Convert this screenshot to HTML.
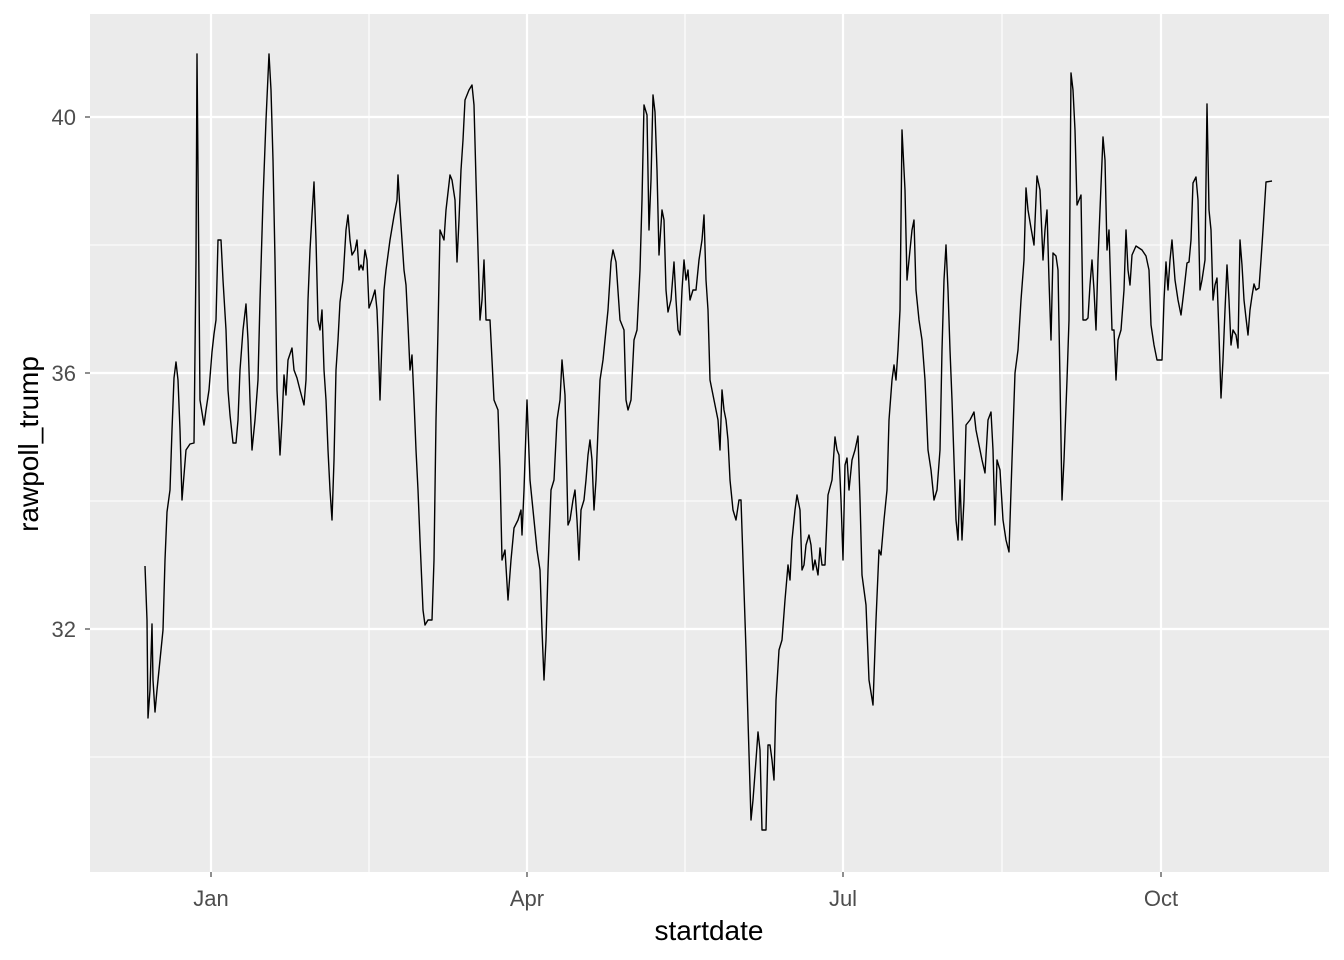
<!DOCTYPE html>
<html><head><meta charset="utf-8"><style>
html,body{margin:0;padding:0;background:#fff;}
svg{display:block;font-family:"Liberation Sans",sans-serif;}
</style></head><body>
<svg width="1344" height="960" viewBox="0 0 1344 960">
<rect x="0" y="0" width="1344" height="960" fill="#fff"/>
<rect x="90" y="14" width="1239" height="858" fill="#ebebeb"/>
<g stroke="#fff" stroke-width="1.1">
<line x1="90" x2="1329" y1="245" y2="245"/><line x1="90" x2="1329" y1="501" y2="501"/><line x1="90" x2="1329" y1="757" y2="757"/>
<line x1="369" x2="369" y1="14" y2="872"/><line x1="685" x2="685" y1="14" y2="872"/><line x1="1002" x2="1002" y1="14" y2="872"/>
</g>
<g stroke="#fff" stroke-width="2.2">
<line x1="90" x2="1329" y1="117" y2="117"/><line x1="90" x2="1329" y1="373" y2="373"/><line x1="90" x2="1329" y1="629" y2="629"/>
<line x1="211" x2="211" y1="14" y2="872"/><line x1="527" x2="527" y1="14" y2="872"/><line x1="843" x2="843" y1="14" y2="872"/><line x1="1161" x2="1161" y1="14" y2="872"/>
</g>
<polyline fill="none" stroke="#000" stroke-width="1.4" stroke-linejoin="round" points="145,566 147,620 148,718 150,690 152,624 153,680 155,712 157,690 160,660 163,630 165,560 167,512 170,490 172,430 174,378 176,362 178,380 180,430 182,500 184,475 186,450 190,444 194,443 196,260 197,54 198,170 200,400 204,425 206,410 209,390 212,352 214,334 216,320 218,240 221,240 223,280 226,330 228,390 230,415 233,443 236,443 238,420 240,370 243,330 246,304 248,340 250,400 252,450 255,420 258,380 260,300 263,200 266,120 269,54 271,90 273,160 275,260 277,390 280,455 282,420 284,375 286,395 288,360 292,348 294,370 297,378 300,390 304,405 306,380 308,300 310,250 312,215 314,182 316,240 318,320 320,330 322,310 324,370 326,400 328,450 330,490 332,520 334,460 336,370 338,340 340,302 343,280 346,230 348,215 350,240 352,255 355,250 357,240 359,270 361,265 363,270 365,250 367,260 369,308 372,300 375,290 377,310 378,335 380,400 382,340 384,290 386,270 390,240 394,216 397,200 398,175 400,210 402,240 404,270 406,285 408,325 410,370 412,355 414,400 416,450 418,490 420,540 423,610 425,625 428,620 432,620 434,560 436,420 438,330 440,230 444,240 446,210 450,175 452,180 455,200 457,262 459,220 461,170 463,140 465,100 469,90 472,85 474,105 476,180 478,250 480,320 482,300 484,260 486,320 490,320 492,360 494,400 498,410 500,470 502,560 505,550 508,600 511,560 514,528 518,520 521,510 522,535 524,490 527,400 530,480 534,520 537,550 540,570 542,630 544,680 546,640 548,570 551,490 554,480 557,420 560,400 562,360 565,395 568,525 570,520 573,500 575,490 577,520 579,560 581,510 584,500 586,480 588,455 590,440 592,460 594,510 596,480 598,430 600,380 603,360 605,340 608,310 611,262 613,250 616,262 620,320 624,330 626,400 628,410 631,400 634,340 637,330 640,270 642,200 644,105 647,115 649,230 651,180 653,95 655,112 657,170 659,255 662,210 664,220 666,290 668,312 671,300 674,262 676,300 678,330 680,335 682,290 684,260 686,280 688,270 690,300 693,290 696,290 699,260 702,240 704,215 706,280 708,310 710,380 713,395 716,410 718,420 720,450 722,390 724,410 726,420 728,440 730,480 733,510 736,520 739,500 741,500 743,560 746,650 748,720 751,820 753,800 756,760 758,732 760,750 762,830 766,830 768,745 770,745 772,760 774,780 776,700 779,650 782,640 785,600 788,565 790,580 792,540 795,510 797,495 800,510 802,570 804,565 806,545 809,535 811,545 813,570 815,560 818,575 820,548 822,565 825,565 828,495 832,480 835,437 837,450 839,455 841,500 843,560 845,465 847,458 849,490 852,460 855,450 858,436 860,500 862,575 866,605 869,680 873,705 876,620 879,550 881,555 884,520 887,490 889,420 892,380 894,365 896,380 898,350 900,310 902,130 905,190 907,280 909,260 912,230 914,220 916,290 919,320 922,340 925,380 928,450 931,470 934,500 937,490 940,450 942,350 944,280 946,245 948,290 950,350 952,400 954,460 956,520 958,540 960,480 962,540 964,500 966,425 970,420 974,412 976,430 979,445 982,460 985,473 988,420 991,412 993,450 995,525 997,460 1000,470 1003,520 1006,540 1009,552 1012,460 1015,373 1018,350 1021,300 1024,260 1026,188 1028,210 1031,228 1034,245 1037,176 1040,190 1043,260 1045,230 1047,210 1049,280 1051,340 1053,253 1056,256 1058,270 1060,380 1062,500 1064,460 1067,380 1069,320 1071,73 1073,90 1075,130 1077,205 1079,200 1081,195 1083,320 1086,320 1088,318 1090,285 1092,260 1094,290 1096,330 1098,260 1100,210 1103,137 1105,160 1107,250 1109,230 1112,330 1114,330 1116,380 1118,340 1121,330 1124,290 1126,230 1128,270 1130,285 1132,255 1136,246 1139,248 1142,250 1146,256 1149,270 1151,325 1154,345 1157,360 1160,360 1162,360 1164,300 1166,262 1168,290 1170,260 1172,240 1175,280 1178,300 1181,315 1184,290 1187,263 1189,262 1191,240 1193,183 1196,177 1198,200 1200,290 1202,280 1205,260 1207,104 1209,210 1211,230 1213,300 1215,285 1217,278 1219,335 1221,398 1223,360 1225,310 1227,265 1229,300 1231,345 1233,330 1236,335 1238,348 1240,240 1242,265 1244,300 1246,318 1248,335 1250,310 1252,296 1254,284 1256,290 1259,288 1261,260 1263,230 1266,182 1272,181"/>
<g stroke="#333" stroke-width="1.1">
<line x1="85" x2="90" y1="117" y2="117"/><line x1="85" x2="90" y1="373" y2="373"/><line x1="85" x2="90" y1="629" y2="629"/>
<line x1="211" x2="211" y1="872" y2="877"/><line x1="527" x2="527" y1="872" y2="877"/><line x1="843" x2="843" y1="872" y2="877"/><line x1="1161" x2="1161" y1="872" y2="877"/>
</g>
<g fill="#4d4d4d" font-size="22" text-anchor="end">
<text x="76" y="125">40</text><text x="76" y="381">36</text><text x="76" y="637">32</text>
</g>
<g fill="#4d4d4d" font-size="22" text-anchor="middle">
<text x="211" y="906">Jan</text><text x="527" y="906">Apr</text><text x="843" y="906">Jul</text><text x="1161" y="906">Oct</text>
</g>
<text x="709" y="940" font-size="28" text-anchor="middle" fill="#000">startdate</text>
<text transform="translate(38,444) rotate(-90)" font-size="28" text-anchor="middle" fill="#000">rawpoll_trump</text>
</svg>
</body></html>
